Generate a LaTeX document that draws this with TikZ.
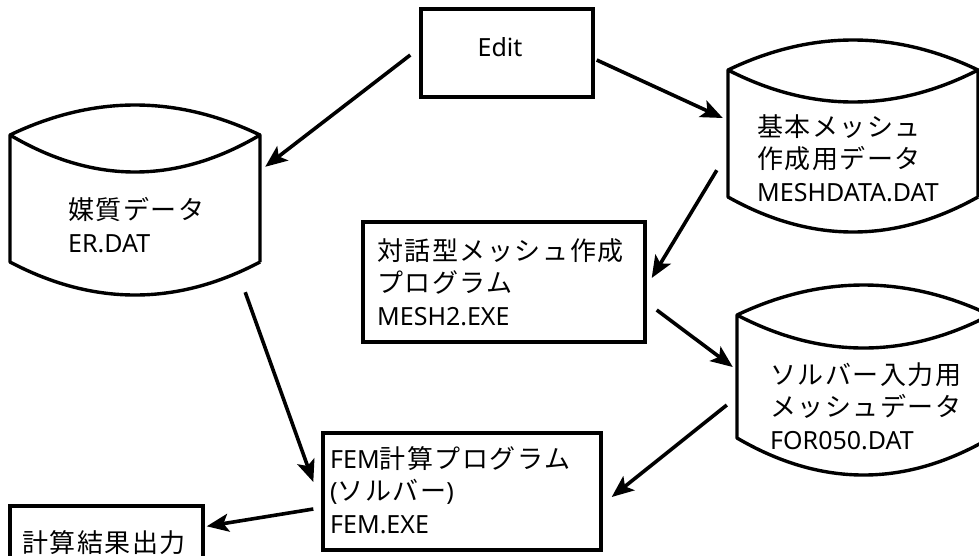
\documentclass[tikz,border=0pt]{standalone}
\usepackage{fontspec}
\setmainfont{Noto Sans}
\newfontfamily\jpfont[LetterSpace=6]{Noto Sans CJK JP}
\newcommand\jtext[1]{{\jpfont\fontsize{26}{32.5}\selectfont #1}}
\usetikzlibrary{arrows.meta,calc}
\tikzset{
  shapeline/.style={line width=3.4pt, line join=round},
  boxnode/.style={draw, line width=3.4pt, inner sep=0pt},
  txt/.style={font=\fontsize{25}{32.5}\selectfont, align=left, inner sep=0pt},
  flow/.style={line width=3.6pt, -{Stealth[length=22pt,width=18pt,inset=5pt]}},
}
% name, left, right, peak, corner, inner, botcorner, botarc
\newcommand\mycyl[8]{%
  \pgfmathsetmacro\cA{#2+(#3-#2)/3}%
  \pgfmathsetmacro\cB{#3-(#3-#2)/3}%
  \pgfmathsetmacro\yP{(#4-0.25*#5)/0.75}%
  \pgfmathsetmacro\yI{(#6-0.25*#5)/0.75}%
  \pgfmathsetmacro\yB{(#8-0.25*#7)/0.75}%
  \pgfmathsetmacro\cw{#3-#2}%
  \pgfmathsetmacro\ch{#7-#5}%
  \pgfmathsetmacro\cx{(#2+#3)/2}%
  \pgfmathsetmacro\cy{(#5+#7)/2}%
  \draw[shapeline] (#3,#7) -- (#3,#5)
     .. controls (\cB,\yP) and (\cA,\yP) .. (#2,#5)
     .. controls (\cA,\yI) and (\cB,\yI) .. (#3,#5)
     (#2,#5) -- (#2,#7)
     .. controls (\cA,\yB) and (\cB,\yB) .. (#3,#7);
  \node[inner sep=0pt, minimum width=\cw pt, minimum height=\ch pt] (#1) at (\cx,\cy) {};
}
\begin{document}
\begin{tikzpicture}[x=1pt,y=-1pt]
\useasboundingbox (0,0) rectangle (979,555);

% boxes
\node[boxnode, minimum width=172pt, minimum height=88pt] (edit) at (507,53) {};
\node[boxnode, minimum width=282pt, minimum height=120pt] (mesh2) at (504,282) {};
\node[boxnode, minimum width=278pt, minimum height=117pt] (fem) at (462,491.5) {};
\node[boxnode, minimum width=193pt, minimum height=69pt] (res) at (106.5,540.5) {};

% cylinders
\mycyl{er}{10}{260}{105}{135}{172}{262}{295}
\mycyl{meshdata}{728}{978}{40}{70}{102}{197}{232}
\mycyl{forfile}{737}{990}{285}{315}{348}{438}{475}

% texts
\node[txt] (edittxt) at (500,47) {Edit};
\node[txt, anchor=west] (ertxt) at (68,225) {\jtext{媒質データ}\\ER.DAT};
\node[txt, anchor=west] (meshtxt) at (757,158) {\jtext{基本メッシュ}\\\jtext{作成用データ}\\MESHDATA.DAT};
\node[txt, anchor=west] (mesh2txt) at (377,282) {\jtext{対話型メッシュ作成}\\\jtext{プログラム}\\MESH2.EXE};
\node[txt, anchor=west] (fortxt) at (770,406) {\jtext{ソルバー入力用}\\\jtext{メッシュデータ}\\FOR050.DAT};
\node[txt, anchor=west] (femtxt) at (330,490) {FEM\jtext{計算プログラム}\\(\jtext{ソルバー})\\FEM.EXE};
\node[txt, anchor=west] (restxt) at (22,543) {\jtext{計算結果出力}};

% connectors
\draw[flow] ($(edit.west)+(-9,2)$) -- ($(er.north east)+(5,32)$);
\draw[flow] ($(edit.east)+(2,7)$) -- ($(meshdata.west)+(-5,-15.5)$);
\draw[flow] ($(meshdata.south west)+(-11,-27)$) -- ($(mesh2.east)+(5,-4)$);
\draw[flow] ($(mesh2.east)+(10,28)$) -- ($(forfile.west)+(-4,-9.5)$);
\draw[flow] ($(forfile.west)+(-10,28.5)$) -- ($(fem.east)+(9,5.5)$);
\draw[flow] ($(er.south east)+(-15,30)$) -- ($(fem.west)+(-8,-9.5)$);
\draw[flow] ($(fem.west)+(-8,17.5)$) -- ($(res.north east)+(2,22)$);
\end{tikzpicture}
\end{document}
